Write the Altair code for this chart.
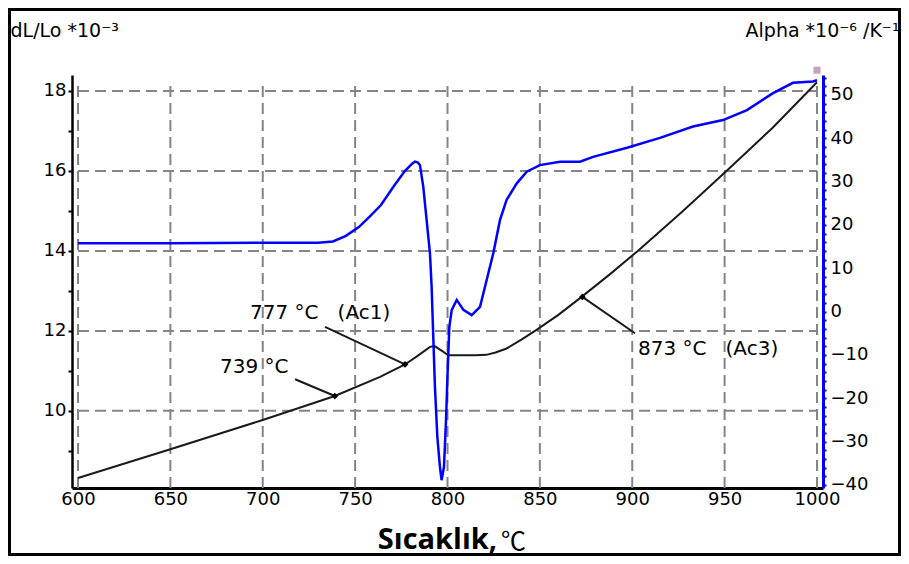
import altair as alt
import pandas as pd

# ---- data ----
temp_black = [600, 650, 700, 739, 763.5, 777, 784, 790.5, 793, 797, 800.4, 805, 815, 821, 826, 832, 840, 848, 860, 872.6, 888, 903, 927, 951, 976, 1000]
dl_black = [8.32, 9.04, 9.77, 10.37, 10.85, 11.16, 11.38, 11.6, 11.62, 11.5, 11.39, 11.39, 11.39, 11.4, 11.46, 11.56, 11.78, 12.02, 12.4, 12.85, 13.42, 14.0, 14.98, 16.0, 17.08, 18.22]

temp_blue = [600, 650, 700, 730, 738, 745, 752, 758, 764, 771, 777, 781, 782.4, 784, 785.1, 786.9, 788.7, 790.5, 791.4, 792.3, 793.2, 794.5, 795.9,
             796.8, 798.1, 799.2, 800.1, 801, 802.3, 805, 808.6, 813.1, 817.6, 821.2, 824.8, 828.4, 832, 837.5, 842.9, 850, 860.9, 871.7,
             878.8, 897.2, 915, 932.9, 949.1, 962.1, 976.2, 987, 997.8, 1000]
alpha_blue = [15.8, 15.8, 15.9, 15.9, 16.2, 17.5, 19.5, 22.0, 24.6, 29.0, 32.5, 34.2, 34.6, 34.4, 33.8, 28.8, 21.1, 13.5, 5.8, -5.8, -17.3, -28.9, -35.8,
              -38.9, -35.8, -25.0, -13.5, -3.5, 0.4, 2.7, 0.4, -0.8, 1.1, 7.3, 13.5, 21.1, 25.8, 29.6, 32.3, 33.8, 34.6, 34.6,
              35.7, 37.8, 40.1, 42.7, 44.2, 46.5, 50.4, 52.8, 53.1, 53.4]

x_ticks = [600, 650, 700, 750, 800, 850, 900, 950, 1000]
left_grid = [10, 12, 14, 16, 18]
left_ticks = list(range(9, 19))
right_ticks = list(range(-40, 55, 2))

NB = "\u00a0"
ann_labels = ["739" + NB + "°C", "777" + NB + "°C" + NB * 3 + "(Ac1)", "873" + NB + "°C" + NB * 3 + "(Ac3)"]
ann_point_x = [739, 777, 873]
ann_point_y = [10.37, 11.16, 12.85]
ann_line_x = [717.5, 733.7, 901.5]
ann_line_y = [10.79, 12.1, 11.94]
ann_text_x = [676.9, 693.1, 903.1]
ann_text_y = [11.09, 12.44, 11.54]

end_marker_x = [1000]
end_marker_y = [18.52]

x_title_main = "Sıcaklık,"
x_title_unit = "℃"

x_domain = [596.75, 1003.25]
left_domain = [8.07, 18.4]
right_domain = [-40.7, 54.6]
grid_top = 18.22

# ---- tables ----
black_df = pd.DataFrame({"t": temp_black, "v": dl_black})
blue_df = pd.DataFrame({"t": temp_blue, "a": alpha_blue})
vgrid_df = pd.DataFrame({"x": x_ticks, "y0": [left_domain[0]] * len(x_ticks), "y1": [grid_top] * len(x_ticks)})
hgrid_df = pd.DataFrame({"y": left_grid, "x0": [x_ticks[0]] * len(left_grid), "x1": [x_ticks[-1]] * len(left_grid)})
ann_df = pd.DataFrame({"label": ann_labels, "px": ann_point_x, "py": ann_point_y,
                       "lx": ann_line_x, "ly": ann_line_y, "tx": ann_text_x, "ty": ann_text_y})
end_df = pd.DataFrame({"x": end_marker_x, "y": end_marker_y})
dummy = pd.DataFrame({"d": [0]})

xs = alt.Scale(domain=x_domain, nice=False, zero=False)
ys_left = alt.Scale(domain=left_domain, nice=False, zero=False)
ys_right = alt.Scale(domain=right_domain, nice=False, zero=False)

xax = alt.Axis(values=x_ticks, title=None, grid=False, ticks=False, format="d",
               domainColor="black", domainWidth=3, labelFont="DejaVu Sans", labelFontSize=18,
               labelColor="black", labelPadding=2, labelFlush=False, labelOverlap=False)

yax_left = alt.Axis(values=left_ticks, labelExpr="datum.value % 2 == 0 ? datum.label : ''",
                    orient="left", grid=False, domainColor="black", domainWidth=2.5,
                    tickColor="black", tickSize=4, tickWidth=2,
                    labelFont="DejaVu Sans", labelFontSize=18, labelColor="black", labelPadding=2,
                    title="dL/Lo *10⁻³", titleAngle=0, titleAlign="left", titleBaseline="middle",
                    titleX=-62, titleY=-45, titleFont="DejaVu Sans", titleFontSize=19,
                    titleFontWeight="normal", titleColor="black")

yax_right = alt.Axis(values=right_ticks, labelExpr="datum.value % 10 == 0 ? datum.label : ''",
                     orient="right", grid=False, domainColor="#0000ff", domainWidth=3,
                     tickColor="#0000ff", tickSize=3, tickWidth=2,
                     labelFont="DejaVu Sans", labelFontSize=18, labelColor="black", labelPadding=4,
                     title="Alpha *10⁻⁶ /K⁻¹", titleAngle=0, titleAlign="right", titleBaseline="middle",
                     titleX=76, titleY=-45, titleFont="DejaVu Sans", titleFontSize=19,
                     titleFontWeight="normal", titleColor="black")

X = lambda f: alt.X(f, type="quantitative", scale=xs, axis=xax)
YL = lambda f: alt.Y(f, type="quantitative", scale=ys_left, axis=yax_left)

grid_style = dict(strokeDash=[11, 6], color="#858585", strokeWidth=2)

vgrid = alt.Chart(vgrid_df).mark_rule(**grid_style).encode(x=X("x"), y=YL("y0"), y2="y1")
hgrid = alt.Chart(hgrid_df).mark_rule(**grid_style).encode(y=YL("y"), x=X("x0"), x2="x1")

black_line = alt.Chart(black_df).mark_line(color="#1a1a1a", strokeWidth=2).encode(x=X("t"), y=YL("v"))

leaders = alt.Chart(ann_df).mark_rule(color="#1a1a1a", strokeWidth=2).encode(
    x=X("px"), y=YL("py"), x2="lx", y2="ly")
points = alt.Chart(ann_df).mark_point(shape="diamond", filled=True, size=45, color="black", opacity=1).encode(
    x=X("px"), y=YL("py"))
texts = alt.Chart(ann_df).mark_text(align="left", baseline="middle", font="DejaVu Sans", fontSize=20,
                                    color="black").encode(x=X("tx"), y=YL("ty"), text="label:N")
end_mark = alt.Chart(end_df).mark_square(size=50, color="#c4a4bc", opacity=1).encode(x=X("x"), y=YL("y"))

frame = alt.Chart(dummy).mark_rect(filled=False, stroke="black", strokeWidth=3).encode(
    x=alt.value(-62.5), x2=alt.value(827.5), y=alt.value(-65.5), y2=alt.value(479.5))

title_main = alt.Chart(dummy).mark_text(align="right", baseline="middle", font="Open Sans", fontWeight="bold",
                                        fontSize=29, color="black").encode(
    x=alt.value(425), y=alt.value(465), text=alt.value(x_title_main))
title_unit = alt.Chart(dummy).mark_text(align="left", baseline="middle", font="Noto Sans CJK SC", fontWeight="normal",
                                        fontSize=25, color="black").encode(
    x=alt.value(429), y=alt.value(467), text=alt.value(x_title_unit))

left_group = alt.layer(frame, vgrid, hgrid, black_line, leaders, points, texts, end_mark, title_main, title_unit)

blue_line = alt.Chart(blue_df).mark_line(color="#0000ff", strokeWidth=2.5).encode(
    x=X("t"), y=alt.Y("a", type="quantitative", scale=ys_right, axis=yax_right))

chart = alt.layer(left_group, blue_line).resolve_scale(y="independent").properties(
    width=751, height=413,
    padding={"left": 64, "top": 67, "right": 78, "bottom": 68},
    autosize=alt.AutoSizeParams(type="none"),
    background="white",
).configure_view(stroke=None)

chart.save("out.html", embed_options={"renderer": "svg", "actions": False})
